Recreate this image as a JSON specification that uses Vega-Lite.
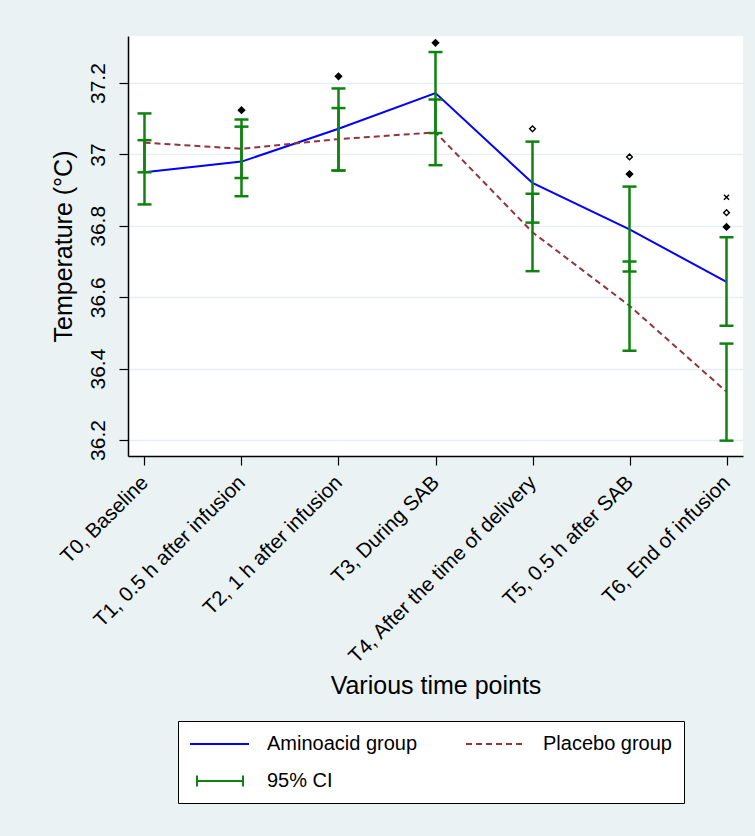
{
  "$schema": "https://vega.github.io/schema/vega-lite/v6.json",
  "width": 615,
  "height": 420,
  "autosize": {"type": "none"},
  "padding": {"left": 128, "top": 36, "right": 12, "bottom": 380},
  "background": "#EAF2F3",
  "config": {
    "font": "Liberation Sans",
    "view": {"fill": "white", "stroke": null},
    "axisX": {
      "domainColor": "black", "domainWidth": 1.5,
      "tickColor": "black", "tickSize": 9, "tickWidth": 1.2,
      "labelAngle": -45, "labelFontSize": 20.5, "labelColor": "black", "labelPadding": 7, "labelOffset": -7, "labelLimit": 400,
      "titleFontSize": 25, "titleFontWeight": "normal", "titleColor": "black", "titlePadding": 17,
      "grid": false
    },
    "axisY": {
      "domainColor": "black", "domainWidth": 1.5,
      "tickColor": "black", "tickSize": 9, "tickWidth": 1.2,
      "labelAngle": -90, "labelFontSize": 21, "labelColor": "black", "labelPadding": 11,
      "gridColor": "#E6EEF1", "gridWidth": 1.5,
      "titleFontSize": 25, "titleFontWeight": "normal", "titleColor": "black", "titlePadding": 11
    }
  },
  "datasets": {
    "means": [
      {"time": "T0, Baseline", "group": "Aminoacid group", "temp": 36.95},
      {"time": "T1, 0.5 h after infusion", "group": "Aminoacid group", "temp": 36.98},
      {"time": "T2, 1 h after infusion", "group": "Aminoacid group", "temp": 37.072},
      {"time": "T3, During SAB", "group": "Aminoacid group", "temp": 37.172},
      {"time": "T4, After the time of delivery", "group": "Aminoacid group", "temp": 36.92},
      {"time": "T5, 0.5 h after SAB", "group": "Aminoacid group", "temp": 36.79},
      {"time": "T6, End of infusion", "group": "Aminoacid group", "temp": 36.643},
      {"time": "T0, Baseline", "group": "Placebo group", "temp": 37.033},
      {"time": "T1, 0.5 h after infusion", "group": "Placebo group", "temp": 37.016},
      {"time": "T2, 1 h after infusion", "group": "Placebo group", "temp": 37.043},
      {"time": "T3, During SAB", "group": "Placebo group", "temp": 37.062},
      {"time": "T4, After the time of delivery", "group": "Placebo group", "temp": 36.782},
      {"time": "T5, 0.5 h after SAB", "group": "Placebo group", "temp": 36.576},
      {"time": "T6, End of infusion", "group": "Placebo group", "temp": 36.335}
    ],
    "ci": [
      {"time": "T0, Baseline", "group": "Aminoacid group", "series": "95% CI", "lo": 36.86, "hi": 37.04},
      {"time": "T1, 0.5 h after infusion", "group": "Aminoacid group", "series": "95% CI", "lo": 36.883, "hi": 37.078},
      {"time": "T2, 1 h after infusion", "group": "Aminoacid group", "series": "95% CI", "lo": 36.955, "hi": 37.185},
      {"time": "T3, During SAB", "group": "Aminoacid group", "series": "95% CI", "lo": 37.06, "hi": 37.287},
      {"time": "T4, After the time of delivery", "group": "Aminoacid group", "series": "95% CI", "lo": 36.809, "hi": 37.036},
      {"time": "T5, 0.5 h after SAB", "group": "Aminoacid group", "series": "95% CI", "lo": 36.672, "hi": 36.91},
      {"time": "T6, End of infusion", "group": "Aminoacid group", "series": "95% CI", "lo": 36.52, "hi": 36.768},
      {"time": "T0, Baseline", "group": "Placebo group", "series": "95% CI", "lo": 36.95, "hi": 37.115},
      {"time": "T1, 0.5 h after infusion", "group": "Placebo group", "series": "95% CI", "lo": 36.934, "hi": 37.098},
      {"time": "T2, 1 h after infusion", "group": "Placebo group", "series": "95% CI", "lo": 36.955, "hi": 37.13},
      {"time": "T3, During SAB", "group": "Placebo group", "series": "95% CI", "lo": 36.97, "hi": 37.154},
      {"time": "T4, After the time of delivery", "group": "Placebo group", "series": "95% CI", "lo": 36.673, "hi": 36.89},
      {"time": "T5, 0.5 h after SAB", "group": "Placebo group", "series": "95% CI", "lo": 36.45, "hi": 36.70},
      {"time": "T6, End of infusion", "group": "Placebo group", "series": "95% CI", "lo": 36.198, "hi": 36.47}
    ],
    "markers": [
      {"time": "T1, 0.5 h after infusion", "kind": "filled", "temp": 37.124},
      {"time": "T2, 1 h after infusion", "kind": "filled", "temp": 37.219},
      {"time": "T3, During SAB", "kind": "filled", "temp": 37.313},
      {"time": "T4, After the time of delivery", "kind": "hollow", "temp": 37.072},
      {"time": "T5, 0.5 h after SAB", "kind": "hollow", "temp": 36.993},
      {"time": "T5, 0.5 h after SAB", "kind": "filled", "temp": 36.945},
      {"time": "T6, End of infusion", "kind": "cross", "temp": 36.88},
      {"time": "T6, End of infusion", "kind": "hollow", "temp": 36.837},
      {"time": "T6, End of infusion", "kind": "filled", "temp": 36.797}
    ]
  },
  "encoding": {
    "x": {
      "field": "time", "type": "nominal", "sort": null,
      "scale": {"type": "point", "padding": 0.17},
      "axis": {"title": "Various time points"}
    }
  },
  "layer": [
    {
      "data": {"name": "means"},
      "transform": [{"filter": "datum.group === 'Aminoacid group'"}],
      "mark": {"type": "line", "strokeWidth": 2},
      "encoding": {
        "y": {
          "field": "temp", "type": "quantitative",
          "scale": {"domain": [36.155, 37.332], "nice": false, "zero": false},
          "axis": {"title": "Temperature (°C)", "values": [36.2, 36.4, 36.6, 36.8, 37, 37.2], "format": ".3~g"}
        },
        "color": {
          "field": "group", "type": "nominal",
          "scale": {"domain": ["Aminoacid group", "Placebo group", "95% CI"], "range": ["#0000FF", "#90353B", "#0f820f"]},
          "legend": {
            "title": null, "orient": "none", "legendX": 50, "legendY": 685,
            "direction": "horizontal", "columns": 2,
            "strokeColor": "black", "fillColor": "white", "padding": 12,
            "labelFontSize": 20, "labelColor": "black", "labelLimit": 400, "labelOffset": 55,
            "symbolSize": 400, "symbolStrokeWidth": 2,
            "columnPadding": 44, "rowPadding": 16,
            "encode": {
              "symbols": {
                "update": {
                  "shape": [{"test": "datum.value === '95% CI'", "value": "M-0.4,-0.55V0.55M-0.4,0H4.2M4.2,-0.55V0.55"}, {"value": "M-1.1,0H4.8"}],
                  "strokeDash": [{"test": "datum.value === 'Placebo group'", "value": [6, 4]}, {"value": [1, 0]}],
                  "strokeWidth": {"value": 2},
                  "stroke": {"scale": "color", "field": "value"},
                  "fill": {"value": "transparent"}
                }
              }
            }
          }
        }
      }
    },
    {
      "data": {"name": "means"},
      "transform": [{"filter": "datum.group === 'Placebo group'"}],
      "mark": {"type": "line", "strokeWidth": 2, "strokeDash": [6, 4]},
      "encoding": {
        "y": {"field": "temp", "type": "quantitative"},
        "color": {"field": "group", "type": "nominal"}
      }
    },
    {
      "data": {"name": "ci"},
      "mark": {"type": "rule", "strokeWidth": 2.5},
      "encoding": {
        "y": {"field": "lo", "type": "quantitative"},
        "y2": {"field": "hi"},
        "color": {"field": "series", "type": "nominal"},
        "detail": {"field": "group"}
      }
    },
    {
      "data": {"name": "ci"},
      "mark": {"type": "tick", "orient": "horizontal", "size": 14, "thickness": 2.5, "color": "#0f820f", "opacity": 1},
      "encoding": {"y": {"field": "lo", "type": "quantitative"}}
    },
    {
      "data": {"name": "ci"},
      "mark": {"type": "tick", "orient": "horizontal", "size": 14, "thickness": 2.5, "color": "#0f820f", "opacity": 1},
      "encoding": {"y": {"field": "hi", "type": "quantitative"}}
    },
    {
      "data": {"name": "markers"},
      "mark": {"type": "point", "filled": false, "stroke": "black", "strokeWidth": 1.4, "opacity": 1},
      "encoding": {
        "y": {"field": "temp", "type": "quantitative"},
        "shape": {"field": "kind", "type": "nominal", "scale": {"domain": ["filled", "hollow", "cross"], "range": ["diamond", "diamond", "M-1,-1L1,1M-1,1L1,-1"]}, "legend": null},
        "fill": {"field": "kind", "type": "nominal", "scale": {"domain": ["filled", "hollow", "cross"], "range": ["black", "white", "transparent"]}, "legend": null},
        "size": {"field": "kind", "type": "nominal", "scale": {"domain": ["filled", "hollow", "cross"], "range": [40, 26, 100]}, "legend": null}
      }
    }
  ]
}
